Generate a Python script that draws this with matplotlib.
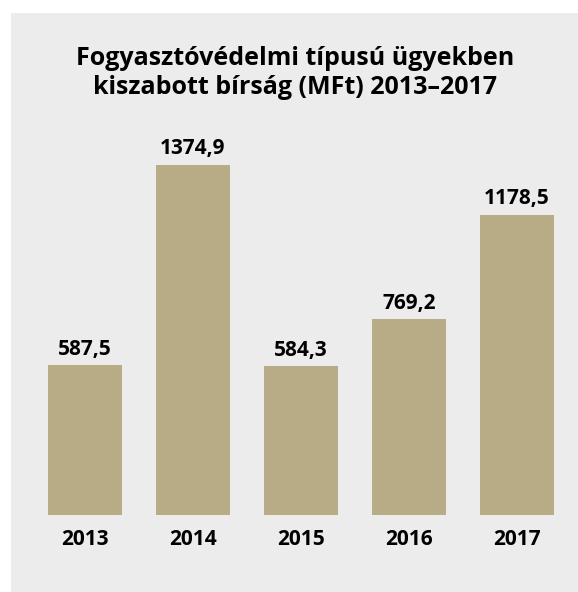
import matplotlib
matplotlib.use('Agg')
import matplotlib.pyplot as plt
from matplotlib.patches import Rectangle

# data
years = ['2013', '2014', '2015', '2016', '2017']
fines = [587.5, 1374.9, 584.3, 769.2, 1178.5]
value_labels = ['587,5', '1374,9', '584,3', '769,2', '1178,5']
title = 'Fogyasztóvédelmi típusú ügyekben\nkiszabott bírság (MFt) 2013–2017'

plt.rcParams['font.family'] = ['Open Sans', 'DejaVu Sans']

W, H = 578, 592
fig = plt.figure(figsize=(W / 100, H / 100), dpi=100)
fig.patch.set_facecolor('white')

# gray panel behind everything
fig.patches.append(Rectangle((11 / W, -0.01), 1.1, 1.01 - 13 / H, transform=fig.transFigure,
                             facecolor='#ececec', edgecolor='none', zorder=-1))

ax = fig.add_axes([31 / W, 1 - 515 / H, 540 / W, 1500 * 0.2548 / H])
ax.set_zorder(2)
ax.patch.set_visible(False)
x = list(range(len(years)))
bars = ax.bar(x, fines, width=0.68, color='#b8ac86', edgecolor='none')
ax.set_xlim(-0.5, 4.5)
ax.set_ylim(0, 1500)

for xi, v, lab in zip(x, fines, value_labels):
    ax.annotate(lab, (xi, v), xytext=(0, 7.5), textcoords='offset points',
                ha='center', va='baseline', fontsize=15, fontweight='bold')

ax.set_xticks(x)
ax.set_xticklabels(years, fontsize=15, fontweight='bold')
ax.tick_params(axis='x', length=0, pad=10)
ax.set_yticks([])
for s in ax.spines.values():
    s.set_visible(False)

fig.text(0.51, 1 - 73 / H, title, ha='center', va='center', fontsize=18,
         fontweight='bold', linespacing=1.2, zorder=3)

fig.savefig('out.png', dpi=100)
